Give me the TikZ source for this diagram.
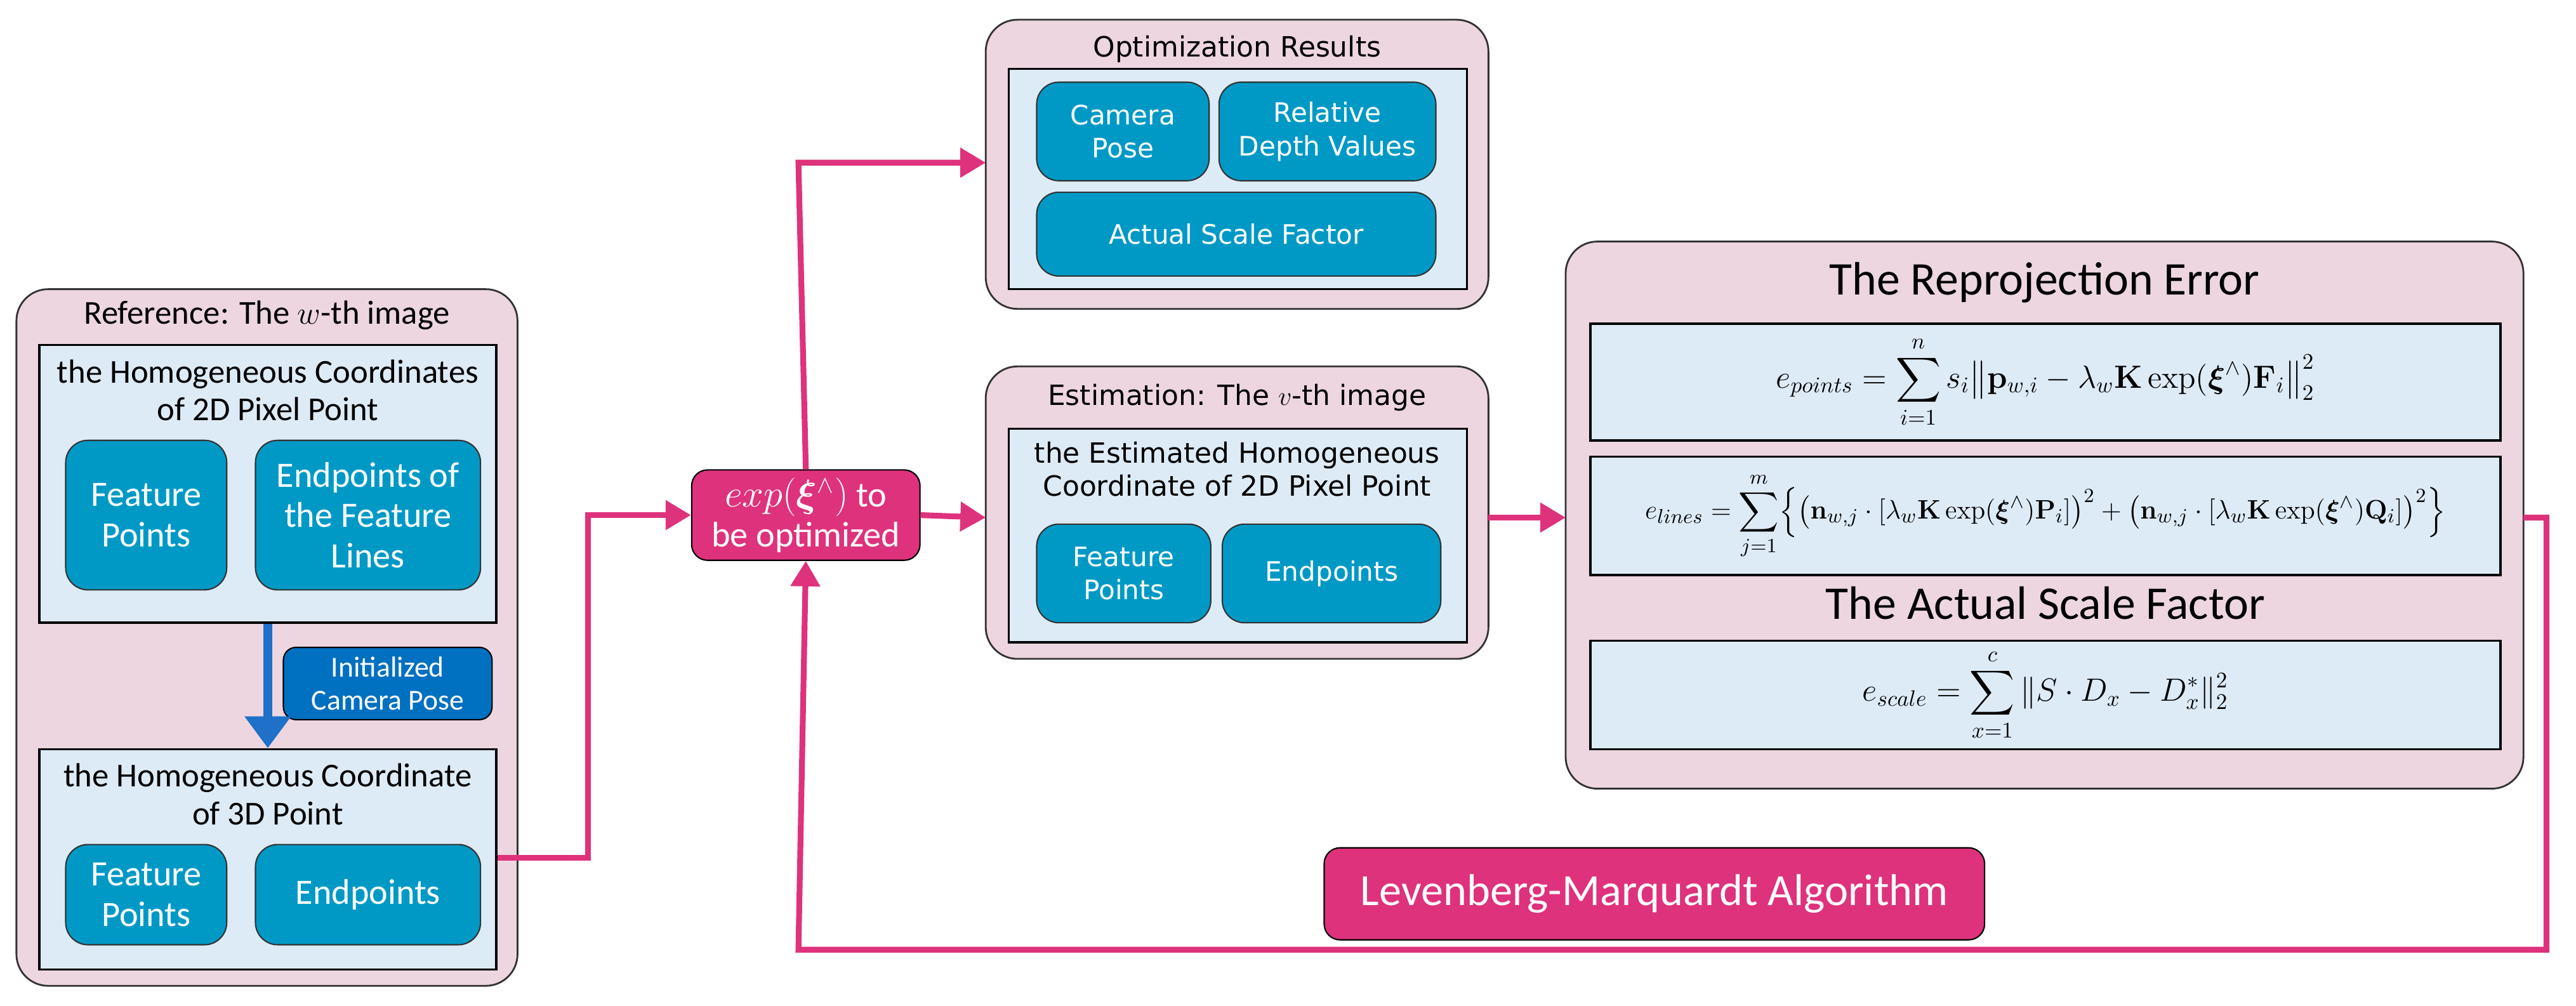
\documentclass[tikz,border=0pt]{standalone}
\usepackage{amsmath,amssymb,bm}
\usepackage[no-math]{fontspec}
\setmainfont{Carlito}
\newfontfamily\wide{DejaVu Sans}
\usetikzlibrary{arrows.meta}
\definecolor{pinkbg}{RGB}{237,214,224}
\definecolor{lblue}{RGB}{221,235,247}
\definecolor{teal}{RGB}{0,153,198}
\definecolor{mag}{RGB}{222,50,124}
\definecolor{ablue}{RGB}{30,112,200}
\definecolor{iblue}{RGB}{0,112,192}
\begin{document}
\begin{tikzpicture}[x=0.2589mm,y=-0.2589mm,
 outer/.style={draw=black!80,line width=0.8pt,fill=pinkbg,rounded corners=5mm},
 inner/.style={draw=black,line width=1pt,fill=lblue},
 tealb/.style={draw=black!80,line width=0.6pt,fill=teal,rounded corners=3.5mm,text=white,align=center,font=\fontsize{16}{18}\selectfont},
 tealw/.style={tealb,font=\wide\fontsize{12}{15}\selectfont},
 ttl/.style={font=\fontsize{15}{17}\selectfont,align=center},
 ttlw/.style={font=\wide\fontsize{12.5}{15}\selectfont,align=center},
 big/.style={font=\fontsize{21}{24}\selectfont},
 conn/.style={draw=mag,line width=2.6pt,-{Triangle[length=4mm,width=4.5mm]}},
 frm/.style={font=\fontsize{14}{16}\selectfont}]
\useasboundingbox (0,0) rectangle (1568,612);
% left
\draw[outer] (10,176) rectangle (315,600);
\node[ttl] at (162.5,192) {Reference: The $w$-th image};
\node[inner,minimum width=278*0.2589mm,minimum height=169*0.2589mm] (up) at (163,294.5) {};
\node[ttl,anchor=north] at (163,214) {the Homogeneous Coordinates\\of 2D Pixel Point};
\node[tealb,minimum width=98*0.2589mm,minimum height=91*0.2589mm] (fp1) at (89,313.5) {Feature\\Points};
\node[tealb,minimum width=137*0.2589mm,minimum height=91*0.2589mm] (ep1) at (224,313.5) {Endpoints of\\the Feature\\Lines};
\node[inner,minimum width=278*0.2589mm,minimum height=134*0.2589mm] (low) at (163,523) {};
\node[ttl,anchor=north] at (163,460) {the Homogeneous Coordinate\\of 3D Point};
\node[tealb,minimum width=98*0.2589mm,minimum height=61*0.2589mm] (fp2) at (89,544.5) {Feature\\Points};
\node[tealb,minimum width=137*0.2589mm,minimum height=61*0.2589mm] (ep2) at (224,544.5) {Endpoints};
\node[draw=black,line width=0.6pt,fill=iblue,rounded corners=2mm,text=white,align=center,font=\fontsize{13}{15}\selectfont,minimum width=127*0.2589mm,minimum height=44*0.2589mm] (init) at (236,416) {Initialized\\Camera Pose};
\draw[ablue,line width=4pt,-{Triangle[length=5mm,width=7mm]}] (up.south) -- (low.north);
% exp node
\node[draw=black,line width=0.6pt,fill=mag,rounded corners=2.5mm,text=white,align=center,font=\fontsize{16}{18}\selectfont,minimum width=139*0.2589mm,minimum height=55*0.2589mm] (exp) at (490.5,313.5) {$exp(\bm{\xi}^{\wedge})$ to\\be optimized};
% top box
\draw[outer] (600,12) rectangle (906,188);
\node[ttlw] at (753,30) {Optimization Results};
\draw[inner] (614,42) rectangle (893,176);
\node[tealw,minimum width=105*0.2589mm,minimum height=60*0.2589mm] (cp) at (683.5,80) {Camera\\Pose};
\node[tealw,minimum width=132*0.2589mm,minimum height=60*0.2589mm] (rd) at (808,80) {Relative\\Depth Values};
\node[tealw,minimum width=243*0.2589mm,minimum height=51*0.2589mm] (asf) at (752.5,142.5) {Actual Scale Factor};
\coordinate (topin) at (600,99);
% estimation
\draw[outer] (600,223) rectangle (906,401);
\node[ttlw] at (753,242) {Estimation: The $v$-th image};
\draw[inner] (614,261) rectangle (893,391);
\node[ttlw,anchor=north] at (753,264) {the Estimated Homogeneous\\Coordinate of 2D Pixel Point};
\node[tealw,minimum width=106*0.2589mm,minimum height=60*0.2589mm] (fp3) at (684,349) {Feature\\Points};
\node[tealw,minimum width=133*0.2589mm,minimum height=60*0.2589mm] (ep3) at (810.5,349) {Endpoints};
\coordinate (estin) at (600,315);
\coordinate (estout) at (906,315);
% right
\draw[outer] (953,147) rectangle (1536,480);
\coordinate (rin) at (953,315);
\coordinate (rout) at (1536,315);
\node[big] at (1244.5,172) {The Reprojection Error};
\draw[inner] (968,197) rectangle (1522,268);
\node[frm] at (1245,232.5) {$e_{points}=\displaystyle\sum_{i=1}^{n} s_i\bigl\|\mathbf{p}_{w,i}-\lambda_w\mathbf{K}\exp(\bm{\xi}^{\wedge})\mathbf{F}_i\bigr\|_2^2$};
\draw[inner] (968,278) rectangle (1522,350);
\node[font=\fontsize{12.5}{14}\selectfont] at (1245,314) {$e_{lines}=\displaystyle\sum_{j=1}^{m}\Bigl\{\bigl(\mathbf{n}_{w,j}\cdot[\lambda_w\mathbf{K}\exp(\bm{\xi}^{\wedge})\mathbf{P}_i]\bigr)^2+\bigl(\mathbf{n}_{w,j}\cdot[\lambda_w\mathbf{K}\exp(\bm{\xi}^{\wedge})\mathbf{Q}_i]\bigr)^2\Bigr\}$};
\node[big] at (1245,367) {The Actual Scale Factor};
\draw[inner] (968,390) rectangle (1522,456);
\node[frm] at (1245,423) {$e_{scale}=\displaystyle\sum_{x=1}^{c}\|S\cdot D_x-D_x^{*}\|_2^2$};
% LM
\node[draw=black,line width=0.6pt,fill=mag,rounded corners=2.5mm,text=white,font=\fontsize{20}{23}\selectfont,minimum width=402*0.2589mm,minimum height=56*0.2589mm] (lm) at (1007,544) {Levenberg-Marquardt Algorithm};
% connectors
\draw[conn] (low.east|-0,522) -- (358,522) -- (358,313.5) -- (exp.west);
\draw[conn] (exp.north) -- (486,99) -- (topin);
\draw[conn] (exp.east) -- (estin);
\draw[conn] (estout) -- (rin);
\draw[conn] (rout) -- (1550,315) -- (1550,578) -- (486,578) -- (exp.south);
\end{tikzpicture}
\end{document}
